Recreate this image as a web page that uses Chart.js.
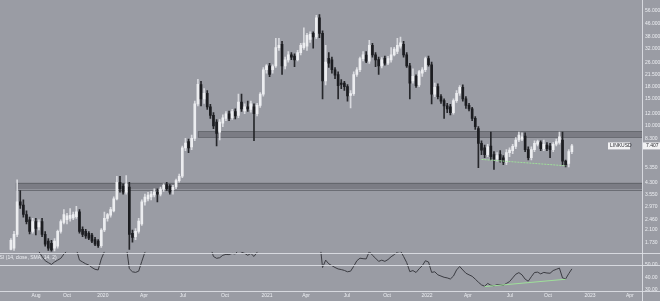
<!DOCTYPE html>
<html>
<head>
<meta charset="utf-8">
<script src="https://cdn.jsdelivr.net/npm/chart.js@4.4.0/dist/chart.umd.min.js"></script>
<style>
  html, body { margin: 0; padding: 0; background: #9a9ca4; overflow: hidden; }
</style>
</head>
<body>
<canvas id="chart" width="660" height="301"></canvas>
<script>
// weekly candles (first candle sits in week slot 3)
const opens = [
  1.57, 1.60, 1.97, 3.20, 3.05, 2.65, 2.45, 2.06, 2.38, 2.20,
  2.38, 1.97, 1.78, 1.72, 1.60, 1.65, 2.06, 2.35, 2.45, 2.50,
  2.52, 2.57, 2.76, 2.12, 2.06, 2.00, 1.95, 1.82, 1.78, 1.66,
  2.10, 2.50, 2.62, 2.80, 3.35, 4.29, 4.05, 3.71, 4.00, 2.00,
  1.90, 2.06, 2.30, 3.20, 3.35, 3.45, 3.55, 3.71, 3.60, 3.88,
  4.15, 4.05, 3.85, 4.00, 4.40, 4.70, 7.20, 7.90, 7.30, 8.30,
  13.9, 18.6, 15.0, 16.3, 13.3, 11.7, 10.6, 9.1, 10.4, 11.2,
  12.0, 11.3, 12.4, 11.7, 14.3, 12.5, 13.3, 12.8, 13.3, 12.0,
  13.6, 16.1, 23.2, 24.6, 23.2, 24.6, 32.3, 34.0, 24.6, 26.9,
  29.0, 28.5, 27.0, 30.0, 32.3, 33.0, 36.6, 40.0, 38.0, 50.5,
  40.0, 19.6, 27.5, 26.9, 23.2, 21.6, 19.0, 19.0, 18.0, 15.8,
  16.2, 21.6, 23.2, 27.4, 28.9, 26.4, 33.5, 29.0, 27.0, 24.6,
  27.5, 25.6, 26.9, 29.0, 30.5, 33.0, 34.0, 29.0, 24.6, 19.6,
  21.0, 18.5, 22.0, 23.2, 27.4, 25.0, 16.1, 18.0, 15.5, 14.6,
  13.5, 13.3, 12.2, 14.6, 16.3, 17.8, 15.0, 13.6, 12.9, 11.2,
  9.6, 7.7, 7.2, 6.5, 7.4, 6.5, 6.1, 6.5, 6.2, 5.8,
  6.7, 6.9, 7.35, 8.1, 8.2, 8.6, 7.0, 6.2, 7.0, 7.6,
  7.8, 7.1, 7.5, 7.4, 7.0, 7.6, 7.8, 8.1, 5.9, 5.7,
  6.8
];
const highs = [
  1.85, 2.06, 4.45, 3.80, 3.30, 2.80, 2.55, 2.50, 2.50, 2.45,
  2.50, 2.05, 1.85, 1.80, 1.85, 2.10, 2.45, 2.85, 2.70, 2.90,
  2.75, 3.00, 2.85, 2.20, 2.12, 2.05, 2.00, 1.88, 1.82, 2.15,
  2.75, 2.70, 2.95, 3.45, 4.70, 4.70, 4.20, 4.75, 4.30, 2.10,
  2.15, 2.50, 3.30, 3.60, 3.70, 3.75, 3.90, 3.90, 4.00, 4.20,
  4.30, 4.15, 4.10, 4.50, 4.85, 7.40, 8.30, 8.20, 8.70, 14.5,
  20.1, 19.5, 17.5, 17.0, 13.8, 12.2, 11.0, 11.0, 11.8, 12.4,
  12.5, 12.8, 12.9, 16.1, 16.1, 13.9, 14.5, 14.5, 13.9, 14.0,
  16.5, 24.0, 25.1, 25.5, 25.0, 37.2, 37.2, 35.5, 28.0, 30.5,
  30.0, 29.5, 31.0, 34.5, 43.5, 40.0, 41.0, 41.0, 52.5, 53.0,
  41.5, 33.5, 30.0, 28.0, 24.0, 22.5, 20.0, 19.5, 18.6, 17.0,
  22.5, 24.0, 28.0, 30.5, 30.5, 36.1, 34.5, 30.0, 28.0, 27.8,
  28.5, 28.4, 32.3, 32.5, 37.2, 37.8, 35.5, 30.0, 25.5, 23.5,
  21.5, 23.0, 24.0, 28.0, 28.5, 26.0, 19.0, 18.8, 16.0, 15.0,
  14.0, 13.8, 15.0, 17.0, 18.3, 18.5, 15.5, 14.0, 13.2, 11.5,
  9.9, 8.0, 7.5, 7.6, 9.1, 6.8, 6.7, 6.9, 6.4, 7.0,
  7.2, 7.6, 8.4, 9.1, 9.0, 9.0, 7.3, 7.3, 8.0, 8.1,
  8.0, 8.1, 7.8, 7.7, 7.8, 8.2, 9.1, 9.1, 6.0, 7.0,
  7.6
];
const lows = [
  1.56, 1.55, 1.90, 2.90, 2.55, 2.30, 1.98, 2.00, 1.95, 2.10,
  1.90, 1.65, 1.55, 1.52, 1.53, 1.60, 2.00, 2.30, 2.30, 2.40,
  2.45, 2.50, 2.00, 1.90, 1.85, 1.82, 1.74, 1.66, 1.62, 1.62,
  2.05, 2.40, 2.55, 2.75, 3.30, 3.70, 3.60, 3.60, 1.57, 1.75,
  1.82, 2.00, 2.25, 3.05, 3.25, 3.30, 3.45, 3.20, 3.50, 3.75,
  3.80, 3.60, 3.60, 3.90, 4.30, 4.60, 6.90, 6.70, 7.00, 8.00,
  13.5, 13.5, 14.0, 12.8, 11.2, 9.6, 7.4, 8.1, 9.9, 10.8,
  10.8, 11.0, 11.1, 11.3, 12.4, 12.0, 12.4, 12.3, 8.0, 11.6,
  13.2, 15.6, 22.0, 20.9, 22.0, 24.0, 31.0, 21.6, 23.5, 26.0,
  27.0, 24.3, 26.5, 29.0, 31.5, 31.0, 35.0, 32.0, 37.0, 37.5,
  15.0, 18.5, 24.0, 22.0, 20.3, 15.0, 17.5, 17.0, 14.5, 13.1,
  15.8, 21.0, 22.5, 26.5, 25.8, 25.5, 28.0, 24.3, 21.6, 23.8,
  24.8, 25.0, 26.0, 28.5, 29.5, 32.0, 28.0, 24.0, 15.0, 19.0,
  17.8, 18.0, 21.0, 22.5, 24.5, 13.9, 15.5, 15.0, 14.0, 11.2,
  12.2, 11.8, 11.9, 14.2, 15.8, 14.5, 13.0, 12.5, 10.8, 9.5,
  5.35, 6.5, 6.2, 6.3, 6.0, 5.2, 5.9, 5.8, 5.6, 5.6,
  6.3, 6.6, 7.1, 7.9, 8.0, 6.8, 6.0, 6.0, 6.8, 7.4,
  6.9, 6.9, 6.9, 6.2, 6.8, 7.4, 7.6, 5.6, 5.4, 5.4,
  6.6
];
const closes = [
  1.80, 1.97, 3.20, 3.05, 2.65, 2.38, 2.06, 2.38, 2.15, 2.35,
  1.97, 1.70, 1.60, 1.56, 1.78, 2.06, 2.38, 2.65, 2.60, 2.62,
  2.65, 2.76, 2.06, 1.97, 1.92, 1.86, 1.78, 1.70, 1.66, 2.10,
  2.50, 2.65, 2.85, 3.35, 4.29, 3.90, 3.71, 4.20, 1.97, 1.88,
  2.06, 2.40, 3.20, 3.44, 3.55, 3.60, 3.71, 3.60, 3.88, 4.10,
  3.90, 3.70, 3.99, 4.40, 4.70, 7.20, 7.73, 7.20, 8.30, 13.9,
  18.65, 15.0, 16.3, 13.3, 11.7, 10.0, 8.95, 10.6, 11.3, 12.0,
  11.2, 12.4, 11.6, 14.3, 12.9, 13.3, 12.9, 13.9, 12.0, 13.6,
  16.1, 23.2, 24.6, 21.6, 24.3, 32.3, 33.5, 24.6, 26.9, 29.0,
  28.0, 26.9, 30.0, 33.5, 34.6, 38.9, 39.5, 38.0, 50.5, 40.0,
  19.6, 26.0, 25.6, 23.2, 21.4, 18.3, 18.6, 18.0, 15.7, 16.2,
  21.6, 23.2, 27.4, 29.0, 26.4, 33.5, 29.0, 26.9, 24.6, 26.9,
  25.6, 27.4, 29.0, 31.6, 33.5, 34.7, 29.0, 24.6, 19.0, 21.0,
  18.3, 22.6, 23.2, 27.4, 25.0, 16.1, 17.8, 15.5, 14.5, 13.5,
  12.9, 12.2, 14.6, 16.3, 17.8, 15.0, 13.6, 12.9, 11.2, 9.9,
  7.7, 6.95, 6.5, 7.3, 6.3, 6.1, 6.4, 6.0, 5.8, 6.7,
  6.95, 7.35, 8.1, 8.7, 8.5, 7.0, 6.2, 7.0, 7.7, 7.9,
  7.1, 7.6, 7.1, 7.0, 7.6, 7.9, 8.5, 5.9, 5.6, 6.8,
  7.407
];
// RSI(14) per candle; values above 60 are off the top of the pane
const rsi = [
  62, 64, 78, 74, 70, 67, 63, 64, 62, 61,
  57, 53.5, 52, 50.5, 52.5, 54, 55.5, 59, 61.5, 62.5,
  63, 63, 54, 52.5, 51, 50, 48, 46.5, 46, 55,
  61, 63, 64, 68, 72, 68, 64, 66, 47, 44.5,
  44, 45, 53, 60.5, 63, 64, 65, 63.5, 65, 66,
  64, 62.5, 63.5, 65.5, 67, 78, 79, 76, 78, 86,
  89, 80, 80, 71, 65, 57, 55.5, 56, 58, 58.7,
  58.5, 59.5, 59, 62, 60.5, 59.5, 58, 59.5, 57, 60.5,
  64, 71, 72, 68, 70, 77, 78, 67, 69, 71,
  70, 68.5, 71, 73, 74, 76, 77, 74, 80, 72,
  48, 54, 51, 49.5, 48, 46.8, 46.3, 45.6, 44.5, 45,
  49, 53.5, 55.6, 55.2, 55, 61, 58, 55.6, 53, 54,
  53, 54.5, 56.8, 58.5, 60.5, 61.5, 57, 52, 44.6, 45.5,
  43.9, 47, 49.5, 53.5, 52.5, 44, 44.5, 42, 41, 40,
  39.5, 38.6, 41, 46, 48.8, 46, 43.3, 42, 40.8, 38.5,
  36, 33.8, 32.7, 35, 33.5, 33, 34, 33.8, 33.5, 35,
  36.5, 39.5, 42.5, 43.8, 42, 38.5, 36.8, 40.5, 43.9, 44.2,
  42.8, 44, 43.5, 43.3, 45.5, 46.5, 47.5, 39.5, 38.7, 43,
  46.87
];

const firstWeek = 3;
const totalWeeks = 206;

// time axis labels and the week slot they sit on
const xTickLabels = ['Aug', 'Oct', '2020', 'Apr', 'Jul', 'Oct', '2021', 'Apr', 'Jul', 'Oct', '2022', 'Apr', 'Jul', 'Oct', '2023', 'Apr'];
const xTickWeeks = [11.05, 21, 32.5, 45.7, 58.2, 71.7, 85.2, 97.7, 110.8, 123.7, 136.5, 149.6, 163.1, 175.3, 188.8, 201.6];

const priceTicks = [56, 46, 38, 32, 26, 21.5, 18, 15, 12, 10, 8.3, 5.35, 4.3, 3.55, 2.97, 2.46, 2.1, 1.73];
const rsiTicks = [30, 40, 50];
const rsiLevels = [60, 50];

// horizontal zones: low, high, start week
const zoneLows = [8.45, 3.87];
const zoneHighs = [9.2, 4.27];
const zoneStarts = [63, 4.6];

// green trend lines (week slot, value)
const priceTrendWeeks = [154, 181];
const priceTrendValues = [6.05, 5.5];
const rsiTrendWeeks = [155, 181];
const rsiTrendValues = [32.4, 38.4];

const lastPrice = 7.407;
const rsiTitle = 'RSI (14, close, SMA, 14, 2)';

const bg = '#9a9ca4';
const upColor = '#ecedf0';
const downColor = '#1c1d21';
const lineColor = 'rgba(222,224,230,0.9)';
const textColor = '#eceef2';
const green = '#9fe09a';
const font = { family: 'Liberation Sans', size: 5 };

const labels = Array.from({ length: totalWeeks }, (_, i) => String(i));
const pad = new Array(firstWeek).fill(null);
const bodyData = pad.concat(opens.map((o, i) => [o, closes[i]]));
const wickData = pad.concat(lows.map((l, i) => [l, highs[i]]));
const candleColors = pad.concat(opens.map((o, i) => closes[i] >= o ? upColor : downColor));
const wickColors = pad.concat(opens.map((o, i) => closes[i] >= o ? '#d8d9de' : '#26272b'));

function trendSeries(weeks, values) {
    const out = new Array(totalWeeks).fill(null);
    weeks.forEach((w, i) => { out[w] = values[i]; });
    return out;
}

const overlay = {
    id: 'overlay',
    beforeDraw(chart) {
        const ctx = chart.ctx;
        ctx.save();
        ctx.fillStyle = bg;
        ctx.fillRect(0, 0, chart.width, chart.height);
        ctx.restore();
    },
    beforeDatasetsDraw(chart) {
        const { ctx, chartArea, scales } = chart;
        ctx.save();
        zoneLows.forEach((low, i) => {
            const x0 = scales.x.getPixelForValue(zoneStarts[i]);
            const yTop = scales.y.getPixelForValue(zoneHighs[i]);
            const yBot = scales.y.getPixelForValue(low);
            ctx.fillStyle = 'rgba(112,114,121,0.75)';
            ctx.fillRect(x0, yTop, chartArea.right - x0, yBot - yTop);
            ctx.strokeStyle = 'rgba(95,97,104,0.8)';
            ctx.lineWidth = 1;
            ctx.strokeRect(x0 + 0.5, Math.round(yTop) + 0.5, chartArea.right - x0, Math.round(yBot - yTop));
        });
        ctx.restore();
    },
    beforeDatasetDraw(chart, args) {
        const { ctx, chartArea, scales } = chart;
        const axis = chart.data.datasets[args.index].yAxisID === 'yr' ? scales.yr : scales.y;
        ctx.save();
        ctx.beginPath();
        ctx.rect(chartArea.left, axis.top, chartArea.right - chartArea.left, axis.bottom - axis.top);
        ctx.clip();
    },
    afterDatasetDraw(chart) {
        chart.ctx.restore();
    },
    afterDraw(chart) {
        const { ctx, chartArea, scales } = chart;
        ctx.save();
        ctx.strokeStyle = lineColor;
        ctx.lineWidth = 1;
        ctx.beginPath();
        rsiLevels.forEach(v => {
            const y = Math.round(scales.yr.getPixelForValue(v)) + 0.5;
            ctx.moveTo(0, y);
            ctx.lineTo(chart.width, y);
        });
        const yb = Math.round(chartArea.bottom) + 0.5;
        ctx.moveTo(0, yb);
        ctx.lineTo(chart.width, yb);
        const xr = Math.round(chartArea.right) + 0.5;
        ctx.moveTo(xr, 0);
        ctx.lineTo(xr, chart.height);
        ctx.stroke();

        // rsi title
        ctx.font = font.size + 'px ' + font.family;
        ctx.fillStyle = textColor;
        ctx.textBaseline = 'middle';
        ctx.fillText(rsiTitle, -4, scales.yr.top + 6);

        // last price tag
        const yp = scales.y.getPixelForValue(lastPrice);
        ctx.fillStyle = '#f2f2f4';
        ctx.fillRect(chartArea.right + 1, yp - 3.5, 18, 7);
        ctx.fillStyle = '#2a2b30';
        ctx.fillText(lastPrice.toFixed(3), chartArea.right + 4, yp);
        ctx.fillStyle = '#f2f2f4';
        ctx.fillRect(chartArea.right - 34, yp - 3.5, 22, 7);
        ctx.fillStyle = '#2a2b30';
        ctx.fillText('LINKUSD', chartArea.right - 32, yp);
        ctx.restore();
    }
};

new Chart(document.getElementById('chart').getContext('2d'), {
    type: 'bar',
    data: {
        labels: labels,
        datasets: [
            {
                label: 'wicks',
                data: wickData,
                backgroundColor: wickColors,
                barThickness: 1,
                grouped: false,
                order: 3,
                yAxisID: 'y'
            },
            {
                label: 'bodies',
                data: bodyData,
                backgroundColor: candleColors,
                barThickness: 2,
                minBarLength: 1,
                grouped: false,
                order: 2,
                yAxisID: 'y'
            },
            {
                type: 'line',
                label: 'support',
                data: trendSeries(priceTrendWeeks, priceTrendValues),
                spanGaps: true,
                borderColor: green,
                borderWidth: 1,
                borderDash: [2, 1],
                pointRadius: 0,
                order: 1,
                yAxisID: 'y'
            },
            {
                type: 'line',
                label: 'RSI',
                data: pad.concat(rsi),
                borderColor: '#3b3c42',
                borderWidth: 1,
                pointRadius: 0,
                tension: 0,
                order: 1,
                yAxisID: 'yr'
            },
            {
                type: 'line',
                label: 'rsi support',
                data: trendSeries(rsiTrendWeeks, rsiTrendValues),
                spanGaps: true,
                borderColor: green,
                borderWidth: 1,
                pointRadius: 0,
                order: 0,
                yAxisID: 'yr'
            }
        ]
    },
    options: {
        responsive: false,
        animation: false,
        layout: { padding: 0 },
        plugins: {
            legend: { display: false },
            tooltip: { enabled: false }
        },
        scales: {
            x: {
                type: 'category',
                offset: true,
                grid: { display: false, drawTicks: false },
                border: { display: false },
                afterBuildTicks: scale => {
                    scale.ticks = xTickWeeks.map(v => ({ value: v }));
                },
                afterFit: scale => { scale.height = 10; },
                ticks: {
                    autoSkip: false,
                    maxRotation: 0,
                    padding: 2,
                    color: textColor,
                    font: font,
                    callback: (v, i) => xTickLabels[i]
                }
            },
            y: {
                type: 'logarithmic',
                position: 'right',
                stack: 'panes',
                stackWeight: 251,
                min: 1.515,
                max: 60.3,
                grid: { display: false, drawTicks: false },
                border: { display: false },
                afterBuildTicks: scale => {
                    scale.ticks = priceTicks.map(v => ({ value: v }));
                },
                afterFit: scale => { scale.width = 18; },
                ticks: {
                    autoSkip: false,
                    padding: 3,
                    color: textColor,
                    font: font,
                    callback: v => Number(v).toFixed(3)
                }
            },
            yr: {
                type: 'linear',
                position: 'right',
                stack: 'panes',
                stackWeight: 40,
                min: 28.8,
                max: 60.8,
                grid: { display: false, drawTicks: false },
                border: { display: false },
                afterBuildTicks: scale => {
                    scale.ticks = rsiTicks.map(v => ({ value: v }));
                },
                afterFit: scale => { scale.width = 18; },
                ticks: {
                    autoSkip: false,
                    padding: 3,
                    color: textColor,
                    font: font,
                    callback: v => Number(v).toFixed(2)
                }
            }
        }
    },
    plugins: [overlay]
});
</script>
</body>
</html>
